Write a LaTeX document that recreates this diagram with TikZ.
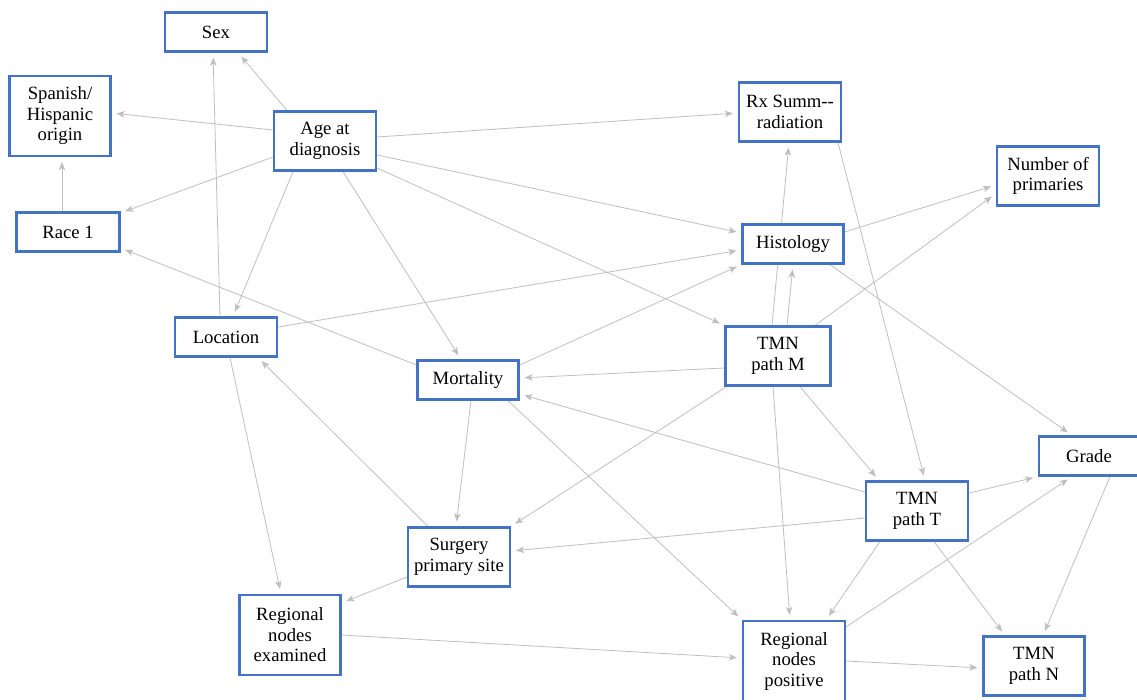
\documentclass[tikz,border=0pt]{standalone}
\usepackage{fontspec}
\setmainfont{Liberation Serif}
\usetikzlibrary{arrows.meta,calc}
\definecolor{boxblue}{HTML}{4472C4}
\definecolor{edgegray}{HTML}{BFBFBF}
\pgfdeclarelayer{bg}
\pgfsetlayers{bg,main}
\tikzset{
  box/.style={draw=boxblue, line width=2.2pt, fill=white, inner sep=0pt,
    align=center, text=black, font=\fontsize{18.7}{20.5}\selectfont},
  one/.style={box, minimum width=102, minimum height=39},
  two/.style={box, minimum width=102, minimum height=59},
  three/.style={box, minimum width=101, minimum height=80},
  link/.style={draw=edgegray, line width=0.8pt, shorten >=5pt,
    -{Stealth[length=8pt,width=6.5pt,inset=2pt]}},
}
\begin{document}
\begin{tikzpicture}[x=1pt,y=-1pt]
\useasboundingbox (0,0) rectangle (1137,699);
\clip (0,0) rectangle (1137,699);

% variables
\node[one]   (sex)   at (216,32)  {Sex};
\node[three] (span)  at (60,116)  {Spanish/\\Hispanic\\origin};
\node[one, minimum width=103] (race) at (68,232) {Race 1};
\node[two]   (age)   at (325,141) {Age at\\diagnosis};
\node[two]   (rx)    at (790,112) {Rx Summ{-}{-}\\radiation};
\node[two]   (nump)  at (1048,176) {Number of\\primaries};
\node[one, minimum width=101] (hist) at (793,244) {Histology};
\node[one]   (loc)   at (226,337) {Location};
\node[one, minimum width=101] (mort) at (468,380) {Mortality};
\node[two, minimum width=105] (tmnm) at (778,356) {TMN\\path M};
\node[one, minimum width=100] (grade) at (1089,456) {Grade};
\node[two]   (tmnt)  at (917,511) {TMN\\path T};
\node[two]   (surg)  at (459,557) {Surgery\\primary site};
\node[three] (rne)   at (290,635) {Regional\\nodes\\examined};
\node[three, minimum width=102] (rnp) at (794,661) {Regional\\nodes\\positive};
\node[two, minimum width=101] (tmnn) at (1034,666) {TMN\\path N};

% dependencies, drawn beneath the boxes
\begin{pgfonlayer}{bg}
\fill[white] (0,0) rectangle (1137,699);
\draw[link] ($(age.north)+(-38,0)$) -- ($(sex.south)+(22,0)$);
\draw[link] ($(loc.north)+(-6,0)$) -- ($(sex.south)+(-3,0)$);
\draw[link] ($(age.west)+(0,-11)$) -- ($(span.east)+(0,-3)$);
\draw[link] ($(race.north)+(-6,0)$) -- ($(span.south)+(2,0)$);
\draw[link] ($(age.west)+(0,16)$) -- ($(race.east)+(0,-19)$);
\draw[link] ($(mort.west)+(0,-15)$) -- ($(race.east)+(0,16)$);
\draw[link] ($(age.east)+(0,-4)$) -- ($(rx.west)+(0,1)$);
\draw[link] ($(age.east)+(0,14)$) -- ($(hist.west)+(0,-11)$);
\draw[link] ($(age.south)+(-32,0)$) -- ($(loc.north)+(7,0)$);
\draw[link] ($(age.south)+(18,0)$) -- ($(mort.north)+(-7,0)$);
\draw[link] ($(age.east)+(0,27)$) -- (tmnm.north west);
\draw[link] ($(loc.east)+(0,-10)$) -- ($(hist.west)+(0,6)$);
\draw[link] ($(mort.east)+(0,-15)$) -- (hist.south west);
\draw[link] ($(hist.east)+(0,-12)$) -- ($(nump.west)+(0,9)$);
\draw[link] ($(tmnm.north)+(37,0)$) -- ($(nump.south west)+(0,-13)$);
\draw[link] ($(hist.south)+(37,0)$) -- ($(grade.north)+(-17,0)$);
\draw[link] ($(tmnm.north)+(-6,0)$) -- ($(rx.south)+(-1,0)$);
\draw[link] ($(tmnm.north)+(9,0)$) -- (hist.south);
\draw[link] ($(rx.south)+(48,0)$) -- ($(tmnt.north)+(8,0)$);
\draw[link] ($(tmnm.west)+(0,12)$) -- ($(mort.east)+(0,-2)$);
\draw[link] ($(tmnm.south)+(22,0)$) -- ($(tmnt.north)+(-38,0)$);
\draw[link] ($(tmnm.south west)+(2,0)$) -- (surg.north east);
\draw[link] ($(tmnm.south)+(-5,0)$) -- ($(rnp.north)+(-4,0)$);
\draw[link] ($(tmnt.west)+(0,-19)$) -- ($(mort.east)+(0,14)$);
\draw[link] ($(tmnt.west)+(0,7)$) -- ($(surg.east)+(0,-6)$);
\draw[link] ($(tmnt.east)+(0,-18)$) -- (grade.south west);
\draw[link] ($(tmnt.south)+(-37,0)$) -- ($(rnp.north)+(32,0)$);
\draw[link] ($(tmnt.south)+(17,0)$) -- ($(tmnn.north)+(-29,0)$);
\draw[link] ($(grade.south)+(21,0)$) -- ($(tmnn.north)+(9,0)$);
\draw[link] ($(rnp.north east)+(0,7)$) -- ($(grade.south)+(-17,0)$);
\draw[link] (rnp.east) -- ($(tmnn.west)+(0,2)$);
\draw[link] (rne.east) -- ($(rnp.west)+(0,-3)$);
\draw[link] ($(surg.west)+(0,20)$) -- ($(rne.north east)+(0,9)$);
\draw[link] ($(surg.north)+(-31,0)$) -- ($(loc.south)+(32,0)$);
\draw[link] ($(loc.south)+(4,0)$) -- ($(rne.north)+(-9,0)$);
\draw[link] ($(mort.south)+(3,0)$) -- ($(surg.north)+(-3,0)$);
\draw[link] ($(mort.south)+(40,0)$) -- (rnp.north west);
\end{pgfonlayer}
\end{tikzpicture}
\end{document}
